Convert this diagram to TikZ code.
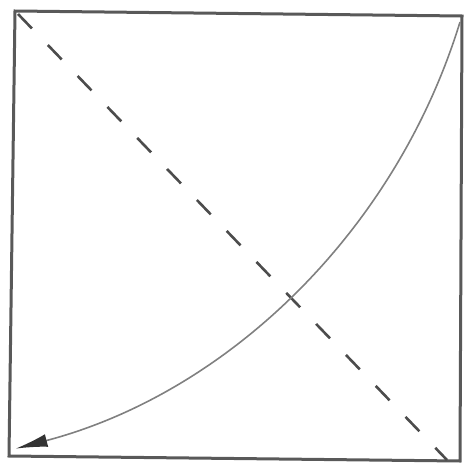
\documentclass[tikz,border=0pt]{standalone}
\usetikzlibrary{arrows.meta}
\begin{document}
\begin{tikzpicture}[x=1pt,y=-1pt,
  frame/.style={draw=black!65,line width=3pt,line join=miter},
  diag/.style={draw=black!70,line width=2.6pt,dash pattern=on 20pt off 23pt},
  arcline/.style={draw=black!50,line width=1.6pt,-{Latex[length=32pt,width=13pt,color=black!80]}}]
\useasboundingbox (0,0) rectangle (465,466);
\coordinate (tl) at (15,11);
\coordinate (tr) at (462,16);
\coordinate (br) at (460,461);
\coordinate (bl) at (9,456);
\coordinate (ds) at (18,14);
\coordinate (de) at (447,460);
\coordinate (as) at (460,22);
\draw[frame] (tl) -- (tr) -- (br) -- (bl) -- cycle;
\draw[diag] (ds) -- (de);
\draw[arcline] (as) arc[start angle=17.04, end angle=75.3, radius=632.8];
\end{tikzpicture}
\end{document}
